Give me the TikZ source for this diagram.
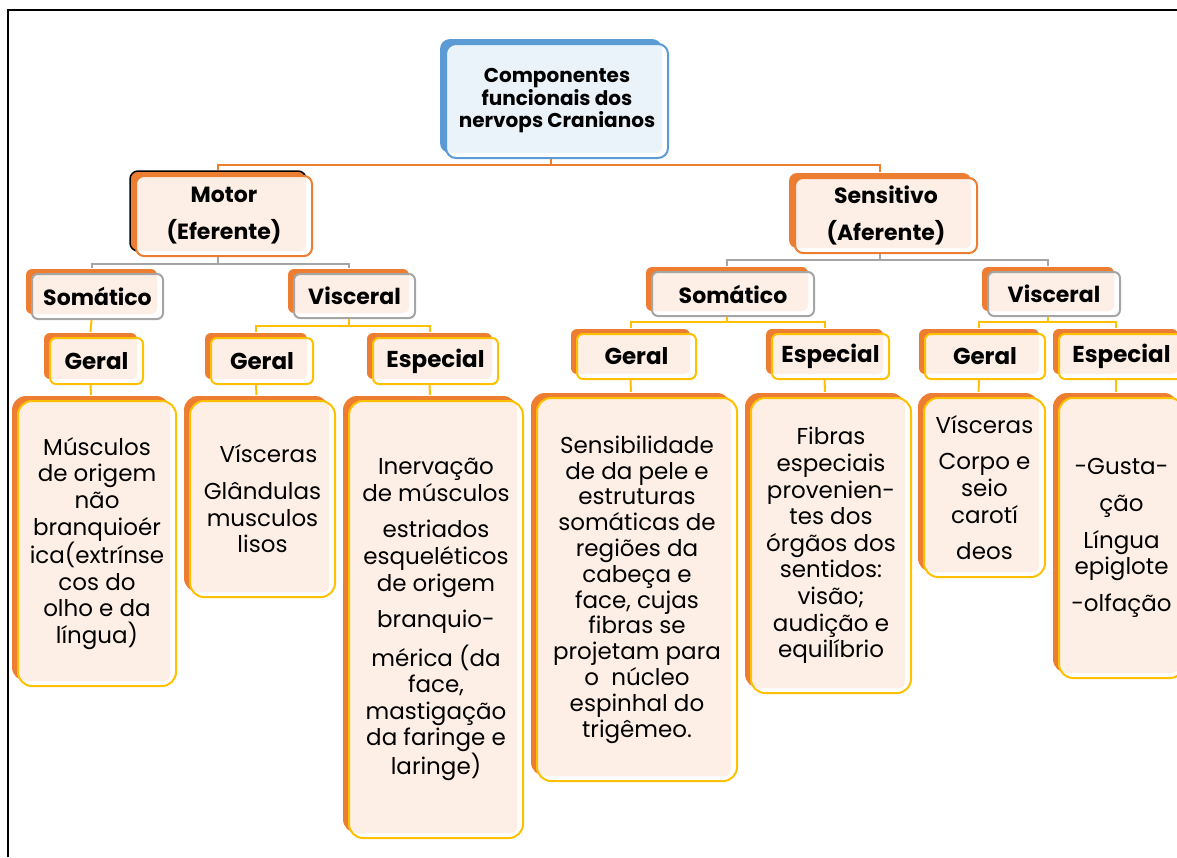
\documentclass[tikz,border=0pt]{standalone}
\usepackage{fontspec}
\setmainfont{Poppins}
\usetikzlibrary{shadows}
\definecolor{orng}{HTML}{ED7D31}
\definecolor{ylw}{HTML}{FFC000}
\definecolor{gry}{HTML}{A5A5A5}
\definecolor{blu}{HTML}{5B9BD5}

\begin{document}
\begin{tikzpicture}[x=1pt, y=-1pt,
  card/.style={line width=2pt, fill=white, anchor=north west, inner sep=0pt, align=center, rounded corners=#1},
  back/.style n args={2}{drop shadow={shadow xshift=-6pt, shadow yshift=5pt, fill=#1, draw=#2, line width=1.5pt, opacity=1},
    path picture={\fill[#1!12, rounded corners=6pt] ([shift={(-6pt,5pt)}]path picture bounding box.north west) rectangle ([shift={(-6pt,5pt)}]path picture bounding box.south east);}},
  big/.style={font=\bfseries\fontsize{22}{37}\selectfont},
  mid/.style={font=\bfseries\fontsize{22}{26}\selectfont},
  lbl/.style={font=\bfseries\fontsize{23}{26}\selectfont},
  txt/.style={font=\fontsize{23}{26.6}\selectfont},
  oline/.style={draw=orng, line width=2pt},
  gline/.style={draw=gry, line width=2pt},
  yline/.style={draw=ylw, line width=2pt}]
\useasboundingbox (0,0) rectangle (1177,857);
\draw[line width=1.5pt] (8,857) -- (8,10) -- (1177,10);

% top
\node[card=10pt, draw=blu, back={blu}{none}, minimum width=222pt, minimum height=114pt,
  font=\bfseries\fontsize{20}{22.5}\selectfont] (root) at (445,43) {Componentes\\funcionais dos\\nervops Cranianos};
\node[card=8pt, draw=orng, back={orng}{black}, big, minimum width=176pt, minimum height=80pt] (motor) at (135,175) {Motor\\(Eferente)};
\node[card=8pt, draw=orng, back={orng}{none}, big, minimum width=182pt, minimum height=75pt] (sens) at (794,177) {Sensitivo\\(Aferente)};

% somatico / visceral
\node[card=6pt, draw=gry, back={orng}{none}, mid, minimum width=131pt, minimum height=45pt] (mSom) at (31,273) {Somático};
\node[card=6pt, draw=gry, back={orng}{none}, mid, minimum width=121pt, minimum height=44pt] (mVis) at (293,273) {Visceral};
\node[card=6pt, draw=gry, back={orng}{none}, mid, minimum width=162pt, minimum height=44pt] (sSom) at (651,271) {Somático};
\node[card=6pt, draw=gry, back={orng}{none}, mid, minimum width=132pt, minimum height=44pt] (sVis) at (987,271) {Visceral};

% geral / especial
\node[card=6pt, draw=ylw, back={orng}{none}, lbl, minimum width=93pt, minimum height=46pt] (mSomGer) at (49,337) {Geral};
\node[card=6pt, draw=ylw, back={orng}{none}, lbl, minimum width=102pt, minimum height=46pt] (mVisGer) at (210,337) {Geral};
\node[card=6pt, draw=ylw, back={orng}{none}, lbl, minimum width=125pt, minimum height=46pt] (mVisEsp) at (372,337) {Especial};
\node[card=6pt, draw=ylw, back={orng}{none}, lbl, minimum width=119pt, minimum height=45pt] (sSomGer) at (576,333) {Geral};
\node[card=6pt, draw=ylw, back={orng}{none}, lbl, minimum width=117pt, minimum height=45pt] (sSomEsp) at (771,333) {Especial};
\node[card=6pt, draw=ylw, back={orng}{none}, lbl, minimum width=120pt, minimum height=45pt] (sVisGer) at (924,333) {Geral};
\node[card=6pt, draw=ylw, back={orng}{none}, lbl, minimum width=125pt, minimum height=45pt] (sVisEsp) at (1058,333) {Especial};

% texts
\node[card=14pt, draw=ylw, back={orng}{none}, txt, minimum width=158pt, minimum height=285pt] (mSomGerL) at (17,400)
  {Músculos\\de origem\\não\\branquioér\\ica(extrínse\\cos do\\olho e da\\língua)};
\node[card=14pt, draw=ylw, back={orng}{none}, txt, minimum width=145pt, minimum height=196pt] (mVisGerL) at (189,400)
  {\hspace*{12pt}Vísceras\\[10pt]Glândulas\\musculos\\lisos};
\node[card=14pt, draw=ylw, back={orng}{none}, txt, minimum width=174pt, minimum height=437pt] (mVisEspL) at (348,400)
  {Inervação\\de músculos\\[10pt]estriados\\esqueléticos\\de origem\\[10pt]branquio-\\[10pt]mérica (da\\face,\\mastigação\\da faringe e\\laringe)};
\node[card=14pt, draw=ylw, back={orng}{none}, font=\fontsize{23}{25.8}\selectfont, minimum width=200pt, minimum height=383pt] (sSomGerL) at (536,397)
  {Sensibilidade\\de da pele e\\estruturas\\somáticas de\\regiões da\\cabeça e\\face, cujas\\fibras se\\projetam para\\o\ \ núcleo\\espinhal do\\trigêmeo.};
\node[card=14pt, draw=ylw, back={orng}{none}, txt, minimum width=160pt, minimum height=295pt] (sSomEspL) at (750,397)
  {Fibras\\especiais\\provenien-\\tes dos\\órgãos dos\\sentidos:\\visão;\\audição e\\equilíbrio};
\node[card=14pt, draw=ylw, back={orng}{none}, txt, minimum width=121pt, minimum height=179pt] (sVisGerL) at (923,397)
  {Vísceras\\[10pt]Corpo e\\seio\\carotí\\[10pt]deos};
\node[card=14pt, draw=ylw, back={orng}{none}, txt, minimum width=125pt, minimum height=280pt] (sVisEspL) at (1058,397)
  {-Gusta-\\[10pt]ção\\[10pt]Língua\\epiglote\\[10pt]-olfação};

% connectors
\draw[oline] ([xshift=-6pt]root.south) -- ++(0,6) coordinate (rbus);
\draw[oline] ([xshift=-6pt,yshift=5pt]motor.north) |- (rbus) -| ([xshift=-6pt,yshift=5pt]sens.north);
\draw[gline] ([xshift=-6pt]motor.south) -- ++(0,7) coordinate (mbus);
\draw[gline] ([xshift=-6pt,yshift=5pt]mSom.north) |- (mbus) -| ([xshift=-6pt,yshift=5pt]mVis.north);
\draw[gline] ([xshift=-6pt]sens.south) -- ++(0,6) coordinate (sbus);
\draw[gline] ([xshift=-6pt,yshift=5pt]sSom.north) |- (sbus) -| ([xshift=-6pt,yshift=5pt]sVis.north);
\draw[yline] ([xshift=-6pt]mSom.south) -- ([xshift=-6pt,yshift=5pt]mSomGer.north);
\draw[yline] ([xshift=-6pt]mVis.south) -- ++(0,7) coordinate (vbus);
\draw[yline] ([xshift=-6pt,yshift=5pt]mVisGer.north) |- (vbus) -| ([xshift=-6pt,yshift=5pt]mVisEsp.north);
\draw[yline] ([xshift=-6pt]sSom.south) -- ++(0,5) coordinate (ssbus);
\draw[yline] ([xshift=-6pt,yshift=5pt]sSomGer.north) |- (ssbus) -| ([xshift=-6pt,yshift=5pt]sSomEsp.north);
\draw[yline] ([xshift=-6pt]sVis.south) -- ++(0,5) coordinate (svbus);
\draw[yline] ([xshift=-6pt,yshift=5pt]sVisGer.north) |- (svbus) -| ([xshift=-6pt,yshift=5pt]sVisEsp.north);
\foreach \a in {mSomGer,mVisGer,mVisEsp,sSomGer,sSomEsp,sVisGer,sVisEsp}
  \draw[yline] ([xshift=-6pt]\a.south) -- ([xshift=-6pt,yshift=5pt]\a L.north);
\end{tikzpicture}
\end{document}
